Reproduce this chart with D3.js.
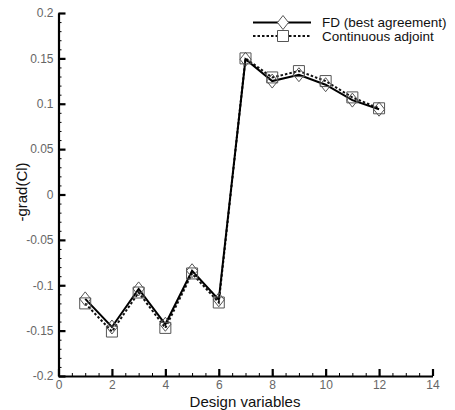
<!DOCTYPE html>
<html>
<head>
<meta charset="utf-8">
<script src="https://cdn.jsdelivr.net/npm/d3@7"></script>
<style>
  html, body { margin: 0; padding: 0; background: #fff; }
  svg { display: block; font-family: "Liberation Sans", Arial, sans-serif; }
</style>
</head>
<body>
<svg id="chart" width="455" height="410"></svg>
<script>
// Design variable indices
const designVars = [1, 2, 3, 4, 5, 6, 7, 8, 9, 10, 11, 12];
// Finite-difference gradient (best agreement)
const fdValues = [-0.115, -0.146, -0.104, -0.143, -0.084, -0.116, 0.149, 0.125, 0.132, 0.121, 0.104, 0.094];
// Continuous adjoint gradient
const adjointValues = [-0.120, -0.151, -0.108, -0.147, -0.087, -0.119, 0.150, 0.129, 0.136, 0.125, 0.107, 0.095];
// Tick labels
const xTicks = [0, 2, 4, 6, 8, 10, 12, 14];
const yTicks = [-0.2, -0.15, -0.1, -0.05, 0, 0.05, 0.1, 0.15, 0.2];
const seriesNames = ["FD (best agreement)", "Continuous adjoint"];

const svg = d3.select("#chart");
const plotLeft = 58.5, plotRight = 432.5, plotTop = 13, plotBottom = 376;

const x = d3.scaleLinear().domain([0, 14]).range([plotLeft, plotRight]);
const y = d3.scaleLinear().domain([-0.2, 0.2]).range([plotBottom, plotTop]);

const fmtY = v => (v === 0 ? "0" : String(+v.toFixed(2)));

// Axes with inward-pointing ticks
const gx = svg.append("g").attr("transform", `translate(0,${plotBottom})`);
gx.call(d3.axisBottom(x).tickValues(d3.range(0, 14.01, 0.5)).tickSizeInner(-3).tickSizeOuter(0).tickFormat(""));
const gxMaj = svg.append("g").attr("transform", `translate(0,${plotBottom})`);
gxMaj.call(d3.axisBottom(x).tickValues(xTicks).tickSizeInner(-7).tickSizeOuter(0).tickFormat(d3.format("d")));
gxMaj.select(".domain").remove();
gxMaj.selectAll(".tick line").attr("stroke-width", 2.2);
gxMaj.selectAll(".tick text").attr("y", 4).attr("dy", "0.71em").attr("font-size", 12).attr("fill", "#666");

const gy = svg.append("g").attr("transform", `translate(${plotLeft},0)`);
gy.call(d3.axisLeft(y).tickValues(d3.range(-20, 20.5, 1).map(v => v / 100)).tickSizeInner(-3).tickSizeOuter(0).tickFormat(""));
const gyMaj = svg.append("g").attr("transform", `translate(${plotLeft},0)`);
gyMaj.call(d3.axisLeft(y).tickValues(yTicks).tickSizeInner(-7).tickSizeOuter(0).tickFormat(fmtY));
gyMaj.select(".domain").remove();
gyMaj.selectAll(".tick line").attr("stroke-width", 2.2);
gyMaj.selectAll(".tick text").attr("x", -5).attr("font-size", 12).attr("fill", "#666");

svg.selectAll(".domain").attr("stroke", "#000").attr("stroke-width", 2.2);

// Axis titles
svg.append("text").attr("x", 245).attr("y", 407).attr("text-anchor", "middle")
  .attr("font-size", 15).attr("fill", "#111").text("Design variables");
svg.append("text").attr("transform", "translate(27,192) rotate(-90)").attr("text-anchor", "middle")
  .attr("font-size", 15).attr("fill", "#111").text("-grad(Cl)");

// Series lines
const line = d3.line().x((d, i) => x(designVars[i])).y(d => y(d));
svg.append("path").datum(adjointValues).attr("d", line)
  .attr("fill", "none").attr("stroke", "#111").attr("stroke-width", 2).attr("stroke-dasharray", "2.5,2");
svg.append("path").datum(fdValues).attr("d", line)
  .attr("fill", "none").attr("stroke", "#000").attr("stroke-width", 2);

// Markers
const diamond = (cx, cy) => `M${cx},${cy - 7}L${cx + 5.5},${cy}L${cx},${cy + 7}L${cx - 5.5},${cy}Z`;
const square = (cx, cy) => `M${cx - 5.5},${cy - 5.5}h11v11h-11Z`;

svg.append("g").selectAll("path").data(fdValues).join("path")
  .attr("d", (d, i) => diamond(x(designVars[i]), y(d)))
  .attr("fill", "none").attr("stroke", "#555").attr("stroke-width", 1);
svg.append("g").selectAll("path").data(adjointValues).join("path")
  .attr("d", (d, i) => square(x(designVars[i]), y(d)))
  .attr("fill", "none").attr("stroke", "#555").attr("stroke-width", 1);

// Legend
const legend = svg.append("g");
legend.append("line").attr("x1", 253).attr("x2", 311).attr("y1", 22.5).attr("y2", 22.5)
  .attr("stroke", "#000").attr("stroke-width", 2);
legend.append("path").attr("d", diamond(283, 22.5)).attr("fill", "#fff").attr("stroke", "#555");
legend.append("line").attr("x1", 253).attr("x2", 311).attr("y1", 36).attr("y2", 36)
  .attr("stroke", "#111").attr("stroke-width", 2).attr("stroke-dasharray", "2.5,2");
legend.append("path").attr("d", square(283, 36)).attr("fill", "#fff").attr("stroke", "#555");
legend.selectAll("text").data(seriesNames).join("text")
  .attr("x", 322).attr("y", (d, i) => [22.5, 36][i]).attr("dy", "0.35em")
  .attr("font-size", 13.5).attr("fill", "#111").text(d => d);
</script>
</body>
</html>
